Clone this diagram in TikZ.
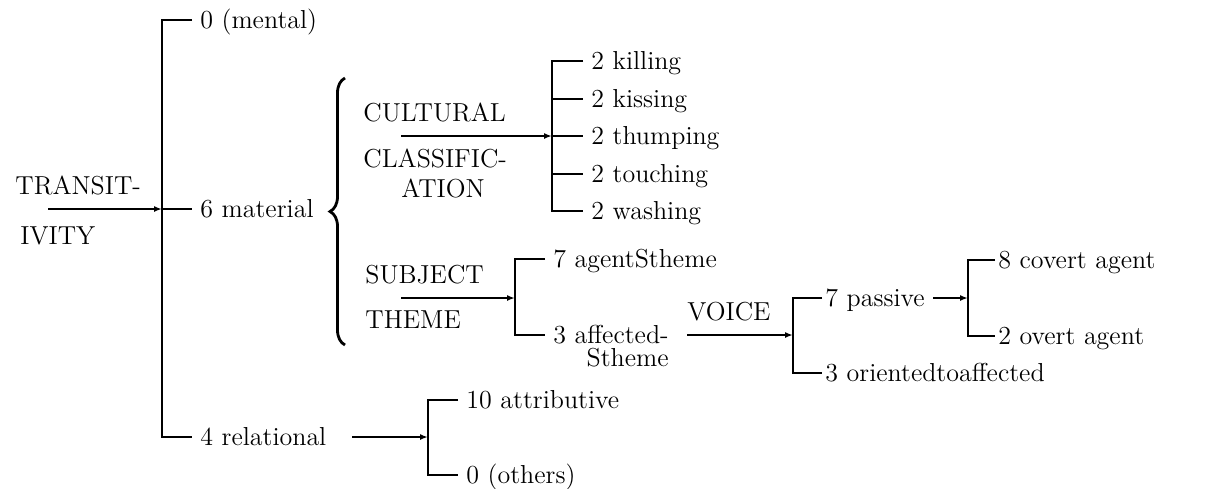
\documentclass[tikz,border=0pt]{standalone}
\usetikzlibrary{arrows.meta,decorations.pathreplacing}
\begin{document}
\begin{tikzpicture}[x=0.5pt,y=-0.5pt,
  lbl/.style={anchor=west, inner xsep=4pt, inner ysep=0pt,
    text height=11.6pt, text depth=3.2pt, font=\fontsize{13}{15.5}\selectfont},
  tight/.style={lbl, inner xsep=1.5pt},
  syslbl/.style={anchor=base west, inner sep=0pt, font=\fontsize{13}{15.5}\selectfont},
  thk/.style={line width=1.4pt},
  thn/.style={line width=1pt},
  arr/.style={-{Latex[length=4pt,width=3pt]}},
]
\useasboundingbox (0,0) rectangle (1210,488);

% top level: TRANSITIVITY
\node[syslbl] (transA) at (15,194) {TRANSIT-};
\node[syslbl] (transB) at (20,244) {IVITY};
\node[lbl] (mental) at (192,20) {0 (mental)};
\node[lbl] (material) at (192,209) {6 material};
\node[lbl] (relational) at (192,437) {4 relational};
\coordinate (tstart) at (48,209);
\coordinate (tj) at (162,209);
\draw[thk] (mental.west) -- ++(-30,0) |- (relational.west);
\draw[thk] (tj) -- (material.west);
\draw[thk,arr] (tstart) -- (tj);

% brace grouping the two simultaneous systems under "material"
\draw[thk, decorate, decoration={brace, amplitude=7.5pt}] (345,345) -- (345,78);

% CULTURAL CLASSIFICATION
\node[syslbl] (cultA) at (363,121) {CULTURAL};
\node[syslbl] (cultB) at (363,167) {CLASSIFIC-};
\node[syslbl, anchor=base] (cultC) at (443,197) {ATION};
\coordinate (cstart) at (401,136);
\coordinate (cj) at (552,136);
\node[lbl] (killing) at (583,61) {2 killing};
\node[lbl] (kissing) at (583,99) {2 kissing};
\node[lbl] (thumping) at (583,136) {2 thumping};
\node[lbl] (touching) at (583,174) {2 touching};
\node[lbl] (washing) at (583,211) {2 washing};
\draw[thk] (killing.west) -- ++(-31,0) |- (washing.west);
\draw[thn] (cj |- kissing.west) -- (kissing.west);
\draw[thn] (cj |- touching.west) -- (touching.west);
\draw[thk] (cj) -- (thumping.west);
\draw[thk,arr] (cstart) -- (cj);

% SUBJECT THEME
\node[syslbl] (subjA) at (365,283) {SUBJECT};
\node[syslbl] (subjB) at (365,328) {THEME};
\coordinate (sstart) at (401,298);
\coordinate (sj) at (515,298);
\node[lbl] (agent) at (545,259) {7 agentStheme};
\node[anchor=north west, inner sep=0pt, align=right,
      font=\fontsize{13}{15.5}\selectfont] (affected) at (553,325)
      {3 affected-\\[-4pt]Stheme};
\coordinate (affline) at (545,335);
\draw[thk] (agent.west) -- ++(-30,0) |- (affline);
\draw[thn,arr] (sstart) -- (sj);

% VOICE
\node[syslbl] (voice) at (687,320) {VOICE};
\coordinate (vstart) at (687,335);
\coordinate (vj) at (793,335);
\node[tight] (passive) at (822,298) {7 passive};
\node[tight] (oriented) at (822,373) {3 orientedtoaffected};
\draw[thn] (passive.west) -- ++(-29,0) |- (oriented.west);
\draw[thk,arr] (vstart) -- (vj);

% agent realisation in the passive
\coordinate (pstart) at (933,298);
\coordinate (pj) at (968,298);
\node[tight] (covert) at (995,260) {8 covert agent};
\node[tight] (overt) at (995,336) {2 overt agent};
\draw[thk] (covert.west) -- ++(-27,0) |- (overt.west);
\draw[thn,arr] (pstart) -- (pj);

% relational
\coordinate (rstart) at (352,437);
\coordinate (rj) at (428,437);
\node[lbl] (attributive) at (458,400) {10 attributive};
\node[lbl] (others) at (458,475) {0 (others)};
\draw[thn] (attributive.west) -- ++(-30,0) |- (others.west);
\draw[thn,arr] (rstart) -- (rj);
\end{tikzpicture}
\end{document}
